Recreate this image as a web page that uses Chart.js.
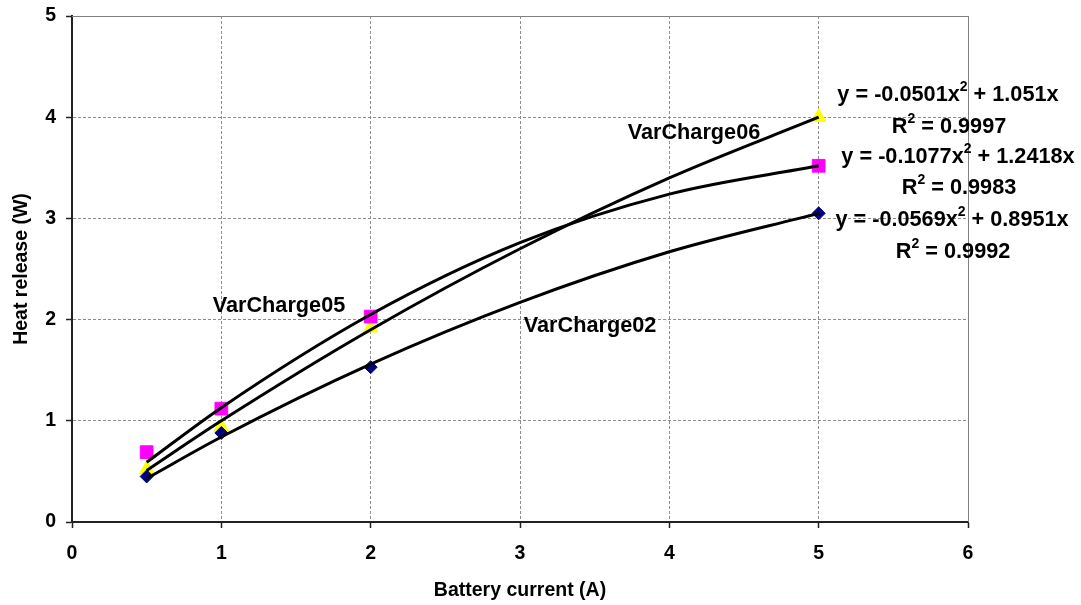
<!DOCTYPE html>
<html>
<head>
<meta charset="utf-8">
<script src="https://cdn.jsdelivr.net/npm/chart.js@4.4.0/dist/chart.umd.min.js"></script>
<style>
html, body { margin: 0; padding: 0; background: #fff; }
canvas { display: block; }
</style>
</head>
<body>
<canvas id="heatChart" width="1081" height="605"></canvas>
<script>
// measured points
const currents = [0.5, 1, 2, 5];
const varCharge02 = [0.45, 0.88, 1.53, 3.05];
const varCharge05 = [0.69, 1.12, 2.03, 3.52];
const varCharge06 = [0.52, 0.94, 1.92, 4.00];

// trendlines
const trendCurrents = [0.5, 1, 2, 3, 4, 5];
const trend02 = [0.43, 0.84, 1.56, 2.17, 2.67, 3.05];
const trend05 = [0.59, 1.13, 2.05, 2.76, 3.24, 3.52];
const trend06 = [0.51, 1.00, 1.90, 2.70, 3.40, 4.00];

const xTicks = [0, 1, 2, 3, 4, 5, 6];
const yTicks = [0, 1, 2, 3, 4, 5];

const seriesNames = ["VarCharge02", "VarCharge05", "VarCharge06"];
const equations = ["y = -0.0569x^2 + 0.8951x", "y = -0.1077x^2 + 1.2418x", "y = -0.0501x^2 + 1.051x"];
const rSquared = ["R^2 = 0.9992", "R^2 = 0.9983", "R^2 = 0.9997"];

const FONT = '"Liberation Sans", Arial, sans-serif';

function toPoints(xs, ys) {
    return xs.map((x, i) => ({ x: x, y: ys[i] }));
}

function trendSet(ys) {
    return {
        data: toPoints(trendCurrents, ys),
        showLine: true,
        borderColor: "#000",
        borderWidth: 3,
        pointRadius: 0,
        cubicInterpolationMode: "monotone",
        order: 0
    };
}

function markerSet(name, ys, style, color, radius) {
    return {
        label: name,
        data: toPoints(currents, ys),
        showLine: false,
        pointStyle: style,
        pointRadius: radius,
        backgroundColor: color,
        borderColor: color,
        borderWidth: 1,
        order: 1
    };
}

// where the text annotations sit, in axis units
const textSpots = [
    { text: seriesNames[2], x: 4.165, y: 3.844 },
    { text: seriesNames[1], x: 1.386, y: 2.134 },
    { text: seriesNames[0], x: 3.469, y: 1.937 },
    { text: equations[2], x: 5.866, y: 4.219 },
    { text: rSquared[2], x: 5.873, y: 3.905 },
    { text: equations[1], x: 5.933, y: 3.607 },
    { text: rSquared[1], x: 5.94, y: 3.30 },
    { text: equations[0], x: 5.893, y: 2.984 },
    { text: rSquared[0], x: 5.90, y: 2.668 }
];

function drawSupText(ctx, str, cx, cy) {
    const parts = str.split("^2");
    const mainFont = "bold 21.7px " + FONT;
    const supFont = "bold 14px " + FONT;
    let total = 0;
    parts.forEach((p, i) => {
        ctx.font = mainFont;
        total += ctx.measureText(p).width;
        if (i < parts.length - 1) {
            ctx.font = supFont;
            total += ctx.measureText("2").width;
        }
    });
    let x = cx - total / 2;
    ctx.textAlign = "left";
    ctx.textBaseline = "middle";
    ctx.fillStyle = "#000";
    parts.forEach((p, i) => {
        ctx.font = mainFont;
        ctx.fillText(p, x, cy);
        x += ctx.measureText(p).width;
        if (i < parts.length - 1) {
            ctx.font = supFont;
            ctx.fillText("2", x, cy - 8);
            x += ctx.measureText("2").width;
        }
    });
}

const frameAndText = {
    id: "frameAndText",
    beforeDatasetsDraw(chart) {
        const { ctx, chartArea } = chart;
        ctx.save();
        ctx.strokeStyle = "#808080";
        ctx.lineWidth = 1;
        ctx.beginPath();
        ctx.moveTo(chartArea.left, chartArea.top + 0.5);
        ctx.lineTo(chartArea.right + 0.5, chartArea.top + 0.5);
        ctx.lineTo(chartArea.right + 0.5, chartArea.bottom);
        ctx.stroke();
        ctx.restore();
    },
    afterDatasetsDraw(chart) {
        const { ctx, scales } = chart;
        ctx.save();
        textSpots.forEach(t => {
            drawSupText(ctx, t.text, scales.x.getPixelForValue(t.x), scales.y.getPixelForValue(t.y));
        });
        ctx.restore();
    }
};

const tickFont = { family: FONT, size: 19.5, weight: "bold" };

const heatChart = new Chart(document.getElementById("heatChart"), {
    type: "scatter",
    data: {
        datasets: [
            trendSet(trend02),
            trendSet(trend05),
            trendSet(trend06),
            markerSet(seriesNames[0], varCharge02, "rectRot", "#000080", 6.5),
            markerSet(seriesNames[1], varCharge05, "rect", "#FF00FF", 9),
            markerSet(seriesNames[2], varCharge06, "triangle", "#FFFF00", 8.5)
        ]
    },
    options: {
        responsive: false,
        animation: false,
        devicePixelRatio: 1,
        layout: { padding: { top: 16, right: 113, left: 0, bottom: 0 } },
        plugins: {
            legend: { display: false },
            tooltip: { enabled: false }
        },
        scales: {
            x: {
                type: "linear",
                min: xTicks[0],
                max: xTicks[xTicks.length - 1],
                afterFit(scale) { scale.height = 83; },
                ticks: { stepSize: 1, color: "#000", font: tickFont, padding: 14 },
                grid: { color: "#8c8c8c", lineWidth: 1, tickLength: 6, tickColor: "#222", tickWidth: 1.5 },
                border: { color: "#222", width: 2, dash: [3, 2] },
                title: { display: true, text: "Battery current (A)", color: "#000", font: tickFont, padding: { top: 0, bottom: 3 } }
            },
            y: {
                type: "linear",
                min: yTicks[0],
                max: yTicks[yTicks.length - 1],
                afterFit(scale) {
                    scale.width = 72;
                    scale.paddingTop = 0;
                    scale.paddingBottom = 0;
                },
                ticks: { stepSize: 1, color: "#000", font: tickFont, padding: 10 },
                grid: { color: "#8c8c8c", lineWidth: 1, tickLength: 6, tickColor: "#222", tickWidth: 1.5 },
                border: { color: "#222", width: 2, dash: [3, 2] },
                title: { display: true, text: "Heat release (W)", color: "#000", font: tickFont, padding: { top: 10, bottom: 0 } }
            }
        }
    },
    plugins: [frameAndText]
});
</script>
</body>
</html>
